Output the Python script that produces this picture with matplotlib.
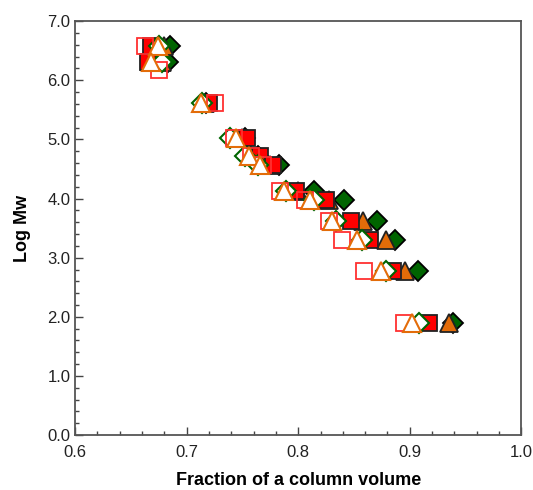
import matplotlib
matplotlib.use("Agg")
import matplotlib.pyplot as plt
from matplotlib.ticker import MultipleLocator, FormatStrFormatter

plt.rcParams['font.family'] = ['Liberation Sans', 'DejaVu Sans']

# Log Mw levels
logmw = [6.58, 6.30, 5.62, 5.02, 4.72, 4.56, 4.12, 3.97, 3.62, 3.30, 2.77, 1.90]

# Filled series
fill_dia_x = [0.685, 0.683, 0.717, 0.752, 0.764, 0.783, 0.814, 0.841, 0.871, 0.887, 0.907, 0.939]
fill_tri_x = [0.680, 0.678, 0.716, 0.750, 0.762, 0.775, 0.800, 0.828, 0.858, 0.879, 0.896, 0.935]
fill_sq_x = [0.668, 0.665, 0.720, 0.754, 0.766, 0.777, 0.798, 0.825, 0.847, 0.864, 0.885, 0.917]
# Open series
open_dia_x = [0.675, 0.678, 0.714, 0.739, 0.752, 0.764, 0.789, 0.814, 0.834, 0.857, 0.879, 0.908]
open_tri_x = [0.674, 0.668, 0.713, 0.744, 0.756, 0.766, 0.787, 0.811, 0.830, 0.853, 0.874, 0.902]
open_sq_x = [0.663, 0.675, 0.725, 0.742, 0.758, 0.768, 0.784, 0.806, 0.828, 0.839, 0.859, 0.895]
open_sq_y = [6.58, 6.17, 5.62, 5.02, 4.72, 4.56, 4.12, 3.97, 3.62, 3.30, 2.77, 1.90]

fig = plt.figure(figsize=(5.33, 4.90), dpi=100)
ax = fig.add_axes([0.141, 0.112, 0.837, 0.845])

green = '#006400'
orange = '#E36C09'
red = '#FF0000'

ax.plot(fill_dia_x, logmw, 'D', ms=10.5, mfc=green, mec='black', mew=1.3, ls='none')
ax.plot(fill_tri_x, logmw, '^', ms=12.5, mfc=orange, mec='#222222', mew=1.3, ls='none')
ax.plot(fill_sq_x, logmw, 's', ms=11, mfc=red, mec='#222222', mew=1.3, ls='none')
ax.plot(open_dia_x, logmw, 'D', ms=10.5, mfc='white', mec=green, mew=1.5, ls='none')
ax.plot(open_sq_x, open_sq_y, 's', ms=11, mfc='none', mec='#FF3030', mew=1.3, ls='none')
ax.plot(open_tri_x, logmw, '^', ms=12.5, mfc='white', mec=orange, mew=1.5, ls='none')

ax.set_xlim(0.6, 1.0)
ax.set_ylim(0.0, 7.0)
ax.xaxis.set_major_locator(MultipleLocator(0.1))
ax.xaxis.set_minor_locator(MultipleLocator(0.02))
ax.yaxis.set_major_locator(MultipleLocator(1.0))
ax.yaxis.set_minor_locator(MultipleLocator(0.2))
ax.xaxis.set_major_formatter(FormatStrFormatter('%.1f'))
ax.yaxis.set_major_formatter(FormatStrFormatter('%.1f'))

ax.tick_params(which='both', direction='in', top=False, right=False, colors='#444444',
               labelcolor='#222222', labelsize=12)
ax.tick_params(axis='x', which='major', pad=7)
ax.tick_params(which='major', length=6, width=1)
ax.tick_params(which='minor', length=3, width=1)
for s in ax.spines.values():
    s.set_color('#555555')
    s.set_linewidth(1.3)

ax.set_xlabel('Fraction of a column volume', fontsize=13, fontweight='bold', labelpad=9)
ax.set_ylabel('Log Mw', fontsize=13, fontweight='bold', labelpad=12)

fig.savefig('out.png', dpi=100)
